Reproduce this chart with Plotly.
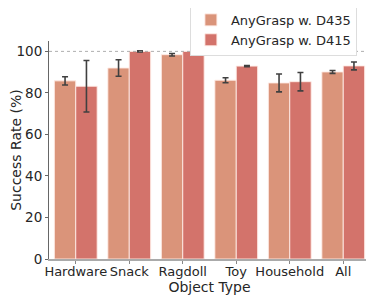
import plotly.graph_objects as go

categories = ["Hardware", "Snack", "Ragdoll", "Toy", "Household", "All"]
d435_values = [85.8, 92.0, 98.4, 86.1, 84.8, 90.1]
d435_errors = [2.0, 4.0, 0.6, 1.2, 4.3, 0.7]
d415_values = [83.2, 100.0, 100.0, 92.9, 85.4, 93.0]
d415_errors = [12.4, 0.3, 0.3, 0.3, 4.4, 1.9]
series_names = ["AnyGrasp w. D435", "AnyGrasp w. D415"]
y_ticks = [0, 20, 40, 60, 80, 100]

c435 = "#DA947A"
c415 = "#D3736B"
font = "DejaVu Sans"

fig = go.Figure()
fig.add_trace(go.Bar(
    x=categories, y=d435_values, name=series_names[0],
    marker=dict(color=c435, line=dict(color="rgba(255,235,230,0.9)", width=1)),
    error_y=dict(type="data", array=d435_errors, color="#404040", thickness=1.6, width=3),
))
fig.add_trace(go.Bar(
    x=categories, y=d415_values, name=series_names[1],
    marker=dict(color=c415, line=dict(color="rgba(255,235,230,0.9)", width=1)),
    error_y=dict(type="data", array=d415_errors, color="#404040", thickness=1.6, width=3),
))

fig.add_hline(y=100, line=dict(color="#999999", width=0.8, dash="dot"))

# the page body has an 8px margin, so margins are offset to compensate
fig.update_layout(
    width=374, height=297,
    margin=dict(l=41, r=12, t=33, b=46, autoexpand=False),
    paper_bgcolor="white", plot_bgcolor="white",
    barmode="group", bargap=0.2, bargroupgap=0.0,
    font=dict(family=font, size=13, color="#262626"),
    legend=dict(
        x=0.439, y=1.17, xanchor="left", yanchor="top",
        bgcolor="white", bordercolor="#dddddd", borderwidth=1,
        font=dict(size=13, color="#262626"),
        itemwidth=30, tracegroupgap=0,
    ),
    showlegend=True,
)
fig.update_xaxes(
    range=[-0.5, 5.5],
    showline=True, linecolor="#aaaaaa", linewidth=2,
    ticks="outside", ticklen=3, tickcolor="#888888",
    tickfont=dict(size=13),
    ticklabelstandoff=-4,
    title=dict(text="Object Type", font=dict(size=14), standoff=0),
    showgrid=False,
)
fig.update_yaxes(
    range=[0, 105],
    tickvals=y_ticks,
    showline=True, linecolor="#666666", linewidth=1,
    ticks="outside", ticklen=3, tickcolor="#666666",
    tickfont=dict(size=13.5),
    title=dict(text="Success Rate (%)", font=dict(size=14), standoff=4),
    showgrid=False, zeroline=False,
)

fig.write_html("out.html")
